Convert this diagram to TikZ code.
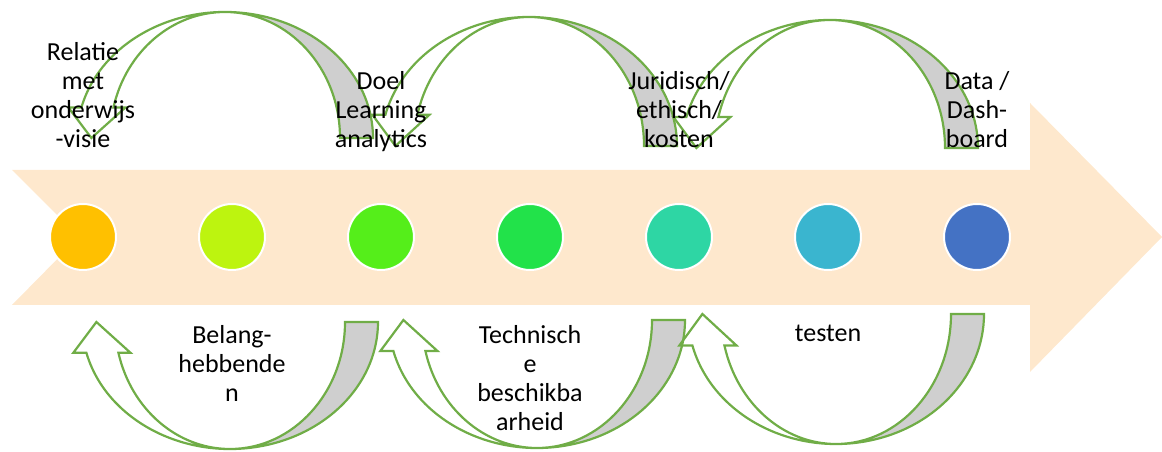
\documentclass[tikz,border=0pt]{standalone}
\usepackage{fontspec}
\setmainfont{Carlito}
\usepackage{tikz}
\usetikzlibrary{positioning}

\definecolor{bandfill}{HTML}{FEE8CD}
\definecolor{ribbongreen}{HTML}{70AD47}
\definecolor{ribbonback}{HTML}{CFCFCF}
\definecolor{dotA}{HTML}{FFC000}
\definecolor{dotB}{HTML}{BDF40F}
\definecolor{dotC}{HTML}{55EE1A}
\definecolor{dotD}{HTML}{22E24A}
\definecolor{dotE}{HTML}{2ED6A4}
\definecolor{dotF}{HTML}{3AB5CF}
\definecolor{dotG}{HTML}{4472C4}

% half-ellipse ribbon arrow: #1 centre x, #2 centre y, #3 y radius, #4 1 = over, -1 = under
\newcommand{\loopribbon}[4]{%
  \fill[ribbonside] (#1,{#2+#4*#3}) arc[start angle={#4*90}, end angle=0, x radius=148pt, y radius=#3pt]
    -- ({#1+115},#2) arc[start angle=0, end angle={#4*90}, x radius=115pt, y radius=#3pt] -- cycle;
  \draw[ribbon] ({#1-148*cos(14)},{#2+#4*#3*sin(14)})
    arc[start angle={#4*166}, end angle=0, x radius=148pt, y radius=#3pt]
    -- ({#1+115},#2) arc[start angle=0, end angle={#4*166}, x radius=115pt, y radius=#3pt]
    -- ++(12,0) -- ({#1-131.5*cos(14)-6},#2) -- ({#1-148*cos(14)-13},{#2+#4*#3*sin(14)}) -- cycle;
}

\begin{document}
\begin{tikzpicture}[
  x=1pt,y=1pt,
  font=\fontsize{26pt}{29pt}\selectfont,
  dot/.style={circle,draw=white,line width=2pt,minimum size=66pt,inner sep=0pt,outer sep=0pt},
  toplbl/.style={align=center,inner sep=0pt,outer sep=0pt,text depth=0pt},
  botlbl/.style={align=center,inner sep=0pt,outer sep=0pt},
  ribbon/.style={draw=ribbongreen,line width=2.2pt,line join=miter},
  ribbonside/.style={fill=ribbonback},
]
  \useasboundingbox (0,0) rectangle (1162,452);
  % the wide arrow behind the steps
  \fill[bandfill] (12,282) -- (1030,282) -- (1030,349) -- (1162,215) -- (1030,80)
    -- (1030,147) -- (12,147) -- (79,215) -- cycle;

  \node[dot,fill=dotA] (c1) at (83,215) {};
  \node[dot,fill=dotB,right=83pt of c1] (c2) {};
  \node[dot,fill=dotC,right=83pt of c2] (c3) {};
  \node[dot,fill=dotD,right=83pt of c3] (c4) {};
  \node[dot,fill=dotE,right=83pt of c4] (c5) {};
  \node[dot,fill=dotF,right=83pt of c5] (c6) {};
  \node[dot,fill=dotG,right=83pt of c6] (c7) {};

  \loopribbon{225}{314}{126}{1}
  \loopribbon{529}{306}{129}{1}
  \loopribbon{830}{304}{128}{1}
  \loopribbon{230}{130}{127}{-1}
  \loopribbon{537}{132}{128}{-1}
  \loopribbon{836}{138}{130}{-1}

  \node[toplbl,above=56.5pt of c1] (relatie){Relatie\\met\\onderwijs\\-visie};
  \node[toplbl,above=56.5pt of c3] (doel){Doel\\Learning\\analytics};
  \node[toplbl,above=56.5pt of c5] (juridisch){Juridisch/\\ethisch/\\kosten};
  \node[toplbl,above=56.5pt of c7] (data){Data /\\Dash-\\board};
  \node[botlbl,below=55pt of c2] (belang){Belang-\\hebbende\\n};
  \node[botlbl,below=55pt of c4] (techniek){Technisch\\e\\beschikba\\arheid};
  \node[botlbl,below=55pt of c6] (testen){testen};
\end{tikzpicture}
\end{document}
